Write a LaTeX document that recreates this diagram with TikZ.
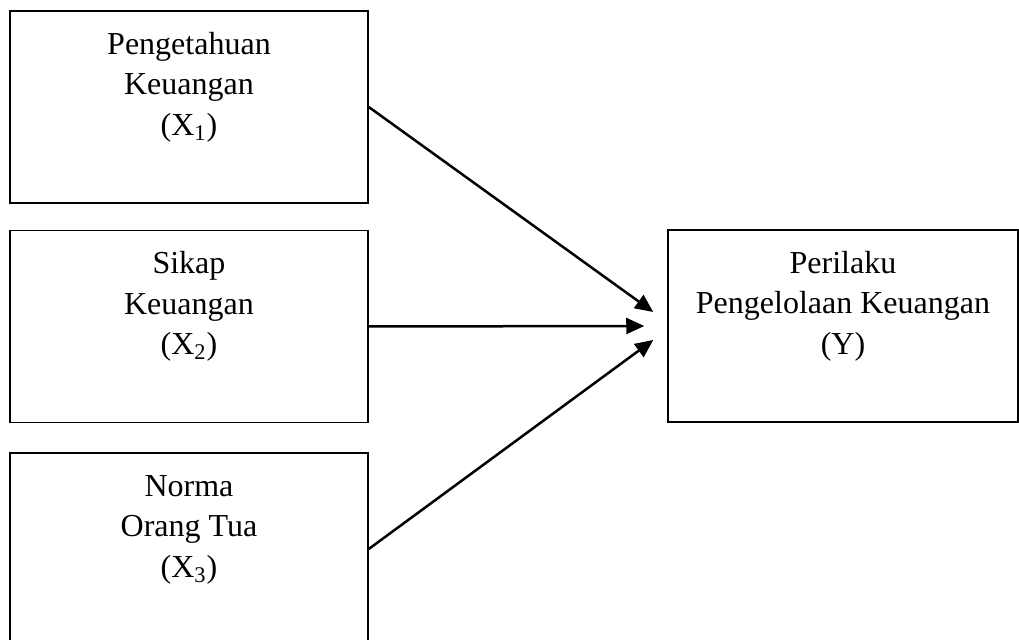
\documentclass[tikz,border=0pt]{standalone}
\usepackage{fontspec}
\setmainfont{Liberation Serif}
\usetikzlibrary{arrows.meta,calc}
\tikzset{
  box/.style={draw, line width=0.75pt, rectangle, inner sep=0pt, minimum width=179pt, minimum height=96pt},
  ybox/.style={draw, line width=0.75pt, rectangle, inner sep=0pt, minimum width=175pt, minimum height=96pt},
  txt/.style={align=center, anchor=base, inner sep=0pt, font=\fontsize{16}{20.25}\selectfont},
  conn/.style={line width=1.25pt, -{Triangle[length=9pt,width=8pt]}}
}
\begin{document}
\begin{tikzpicture}[x=0.5pt,y=-0.5pt]
\useasboundingbox (0,0) rectangle (1019,640);
\node[box] (b1) at (189,107) {};
\node[box] (b2) at (189,326.5) {};
\node[box] (b3) at (189,549) {};
\node[ybox] (y) at (843,326) {};
\node[txt] (t1) at ($(b1.north)+(0,125)$) {Pengetahuan\\Keuangan\\(X\textsubscript{1})};
\node[txt] (t2) at ($(b2.north)+(0,125)$) {Sikap\\Keuangan\\(X\textsubscript{2})};
\node[txt] (t3) at ($(b3.north)+(0,125)$) {Norma\\Orang Tua\\(X\textsubscript{3})};
\node[txt] (ty) at ($(y.north)+(0,125)$) {Perilaku\\Pengelolaan Keuangan\\(Y)};
\coordinate (e1) at ($(y.west)+(-14,-14)$);
\coordinate (e2) at ($(y.west)+(-23,0)$);
\coordinate (e3) at ($(y.west)+(-14,14)$);
\draw[conn] (b1.east) -- (e1);
\draw[conn] (b2.east) -- (e2);
\draw[conn] (b3.east) -- (e3);
\end{tikzpicture}
\end{document}
